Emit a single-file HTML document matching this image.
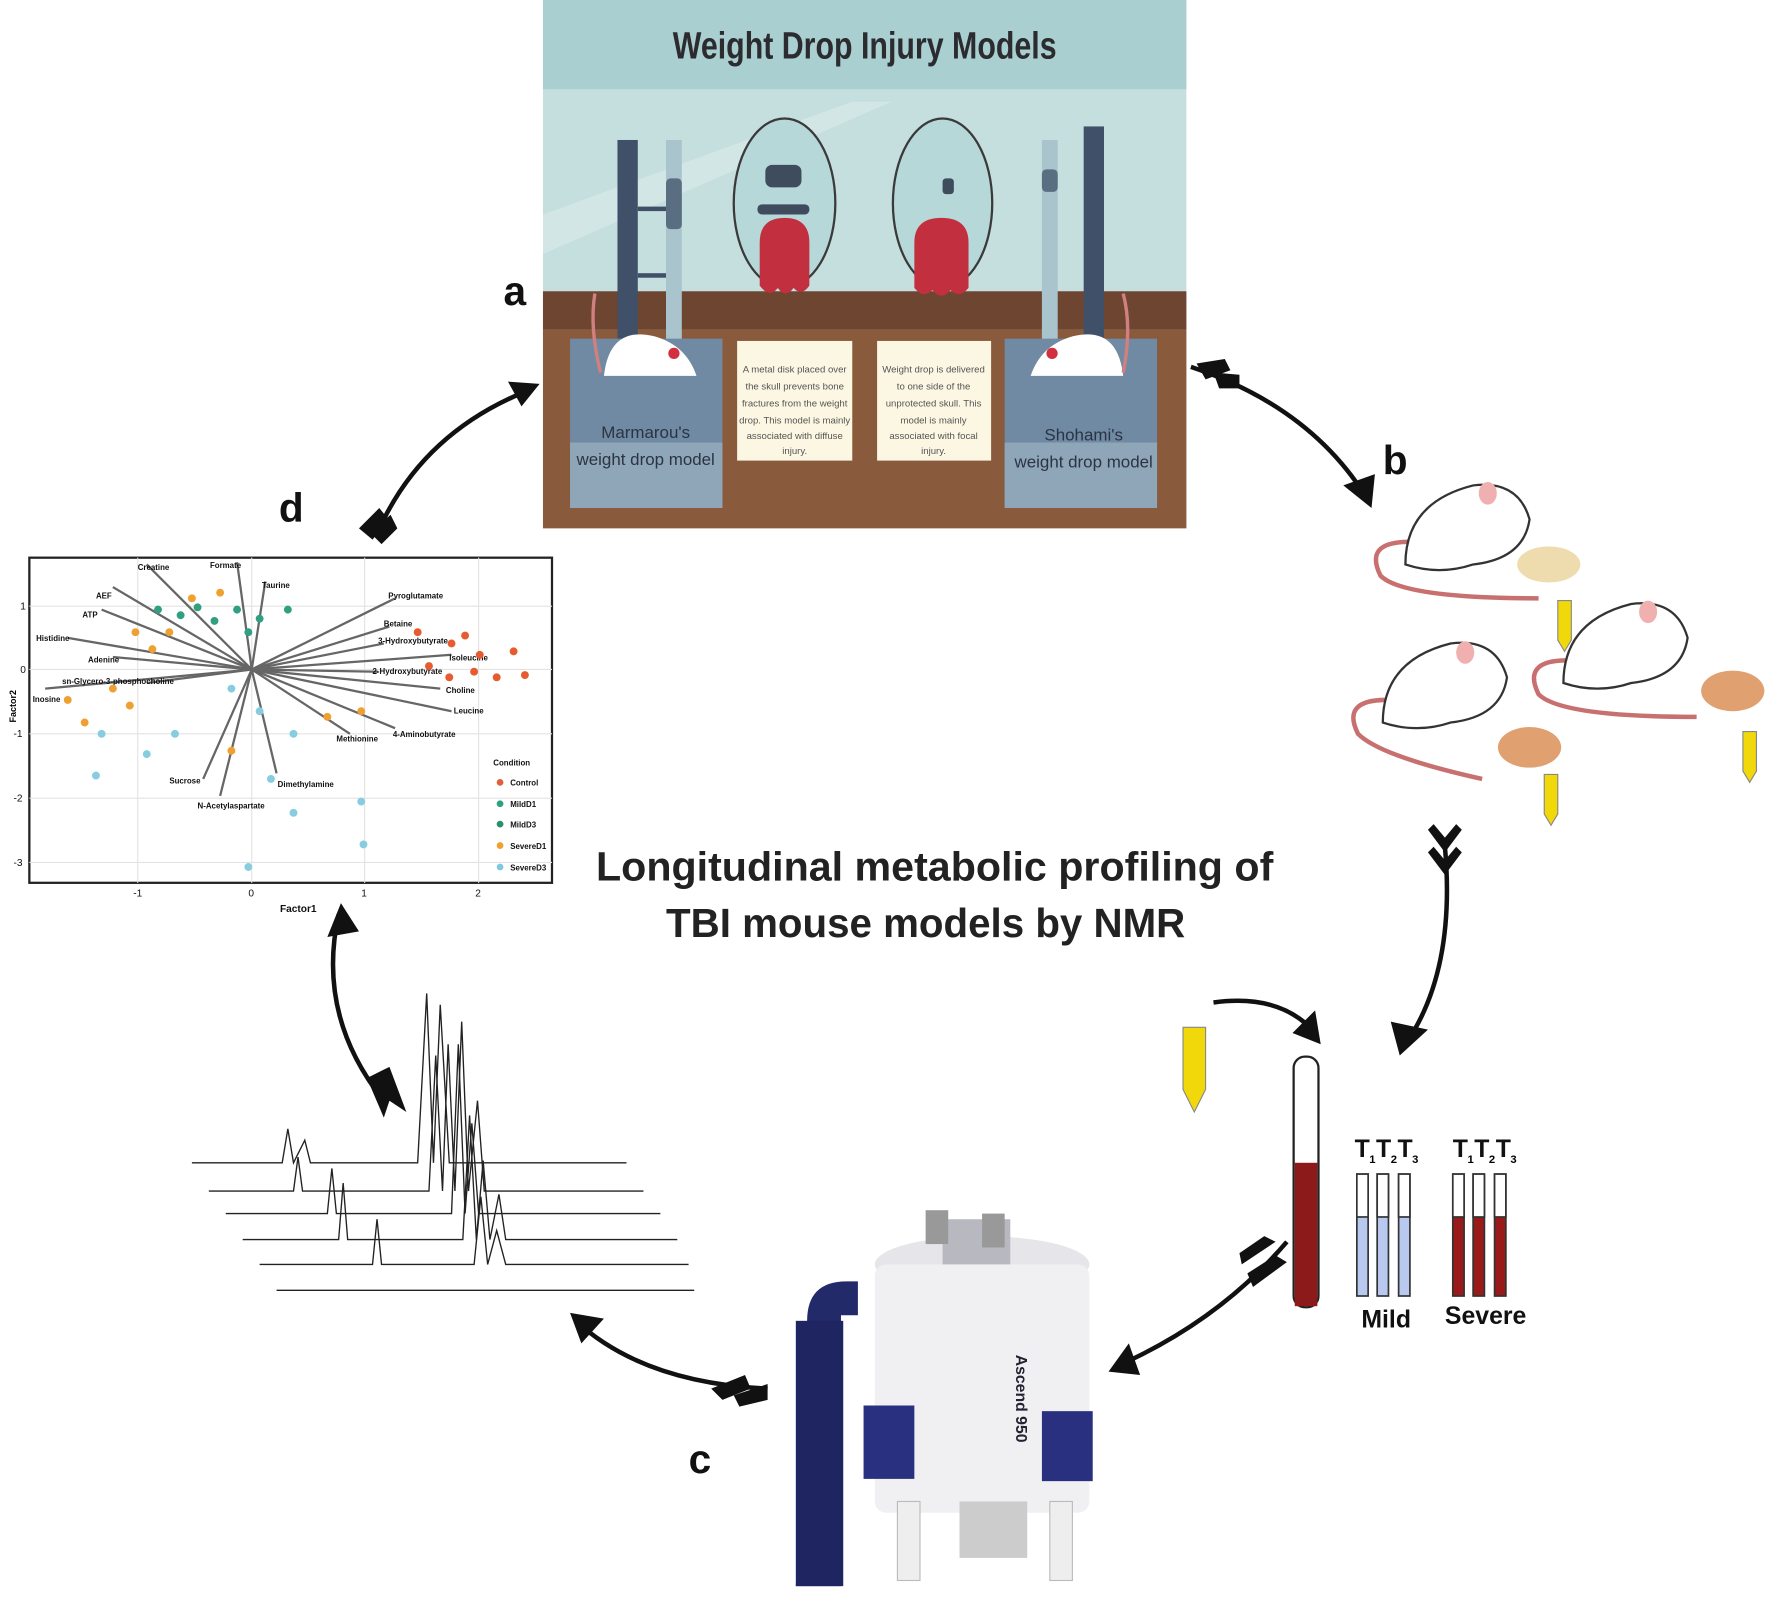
<!DOCTYPE html>
<html><head><style>
html,body{margin:0;padding:0;background:#fff;width:1770px;height:1620px;overflow:hidden}
svg{display:block}
text{font-family:"Liberation Sans",sans-serif}
</style></head><body>
<svg width="1770" height="1620" viewBox="0 0 1568 1435" preserveAspectRatio="none" xmlns="http://www.w3.org/2000/svg">
<!-- Panel a -->
<rect x="481" y="0" width="570" height="468" fill="#c5dede"/>
<rect x="481" y="0" width="570" height="79" fill="#a9cfd0"/>
<text x="766" y="52" text-anchor="middle" font-size="34" font-weight="bold" fill="#2b2b30" textLength="340" lengthAdjust="spacingAndGlyphs">Weight Drop Injury Models</text>
<polygon points="481,190 755,90 790,90 481,225" fill="#d8eaea" opacity="0.7"/>
<rect x="481" y="292" width="570" height="176" fill="#8a5a3c"/>
<rect x="481" y="258" width="570" height="34" fill="#6e4530"/>
<!-- stands -->
<rect x="547" y="124" width="18" height="200" fill="#3f5068"/>
<rect x="565" y="183" width="25" height="4" fill="#3f5068"/><rect x="565" y="242" width="25" height="4" fill="#3f5068"/>
<rect x="590" y="124" width="14" height="198" fill="#a9c4cc"/><rect x="590" y="158" width="14" height="45" rx="4" fill="#5a6e82"/>
<rect x="960" y="112" width="18" height="212" fill="#3f5068"/>
<rect x="923" y="124" width="14" height="198" fill="#a9c4cc"/><rect x="923" y="150" width="14" height="20" rx="4" fill="#5a6e82"/>
<!-- ovals -->
<ellipse cx="695" cy="180" rx="45" ry="75" fill="#b6d8d8" stroke="#3a3a3a" stroke-width="2"/>
<rect x="678" y="146" width="32" height="20" rx="6" fill="#3f4c5e"/><rect x="671" y="181" width="46" height="9" rx="4" fill="#3f4c5e"/>
<path d="M673,215 q0,-22 22,-22 q22,0 22,22 v38 q-7,10 -14,2 q-7,10 -14,0 q-7,10 -16,-2 z" fill="#c23040"/>
<ellipse cx="835" cy="180" rx="44" ry="75" fill="#b6d8d8" stroke="#3a3a3a" stroke-width="2"/>
<rect x="835" y="158" width="10" height="14" rx="3" fill="#3f4c5e"/>
<path d="M810,215 q0,-22 24,-22 q24,0 24,22 v40 q-8,10 -16,2 q-8,10 -16,0 q-8,8 -16,-2 z" fill="#c23040"/>
<!-- boxes -->
<rect x="505" y="300" width="135" height="150" fill="#6f8aa2"/><rect x="505" y="392" width="135" height="58" fill="#8ea6b7"/>
<text x="572" y="388" text-anchor="middle" font-size="15" fill="#2b3344">Marmarou's</text>
<text x="572" y="412" text-anchor="middle" font-size="15" fill="#2b3344">weight drop model</text>
<rect x="890" y="300" width="135" height="150" fill="#6f8aa2"/><rect x="890" y="392" width="135" height="58" fill="#8ea6b7"/>
<text x="960" y="390" text-anchor="middle" font-size="15" fill="#2b3344">Shohami's</text>
<text x="960" y="414" text-anchor="middle" font-size="15" fill="#2b3344">weight drop model</text>
<!-- mice -->
<path d="M535,333 q5,-45 45,-35 q28,8 37,35 z" fill="#fff"/><circle cx="597" cy="313" r="5" fill="#d23040"/>
<path d="M532,330 q-10,-40 -5,-70" stroke="#d08080" stroke-width="3" fill="none"/>
<path d="M995,333 q-5,-45 -45,-35 q-28,8 -37,35 z" fill="#fff"/><circle cx="932" cy="313" r="5" fill="#d23040"/>
<path d="M995,330 q8,-40 0,-70" stroke="#d08080" stroke-width="3" fill="none"/>
<!-- notes -->
<rect x="653" y="302" width="102" height="106" fill="#fbf7e2"/>
<rect x="777" y="302" width="101" height="106" fill="#fbf7e2"/>
<g font-size="8.5" fill="#555" text-anchor="middle">
<text x="704" y="330">A metal disk placed over</text><text x="704" y="345">the skull prevents bone</text><text x="704" y="360">fractures from the weight</text><text x="704" y="375">drop. This model is mainly</text><text x="704" y="389">associated with diffuse</text><text x="704" y="402">injury.</text>
<text x="827" y="330">Weight drop is delivered</text><text x="827" y="345">to one side of the</text><text x="827" y="360">unprotected skull. This</text><text x="827" y="375">model is mainly</text><text x="827" y="389">associated with focal</text><text x="827" y="402">injury.</text>
</g>
<!-- letters -->
<g font-size="36" font-weight="bold" fill="#111">
<text x="446" y="270">a</text><text x="1225" y="420">b</text><text x="610" y="1305">c</text><text x="247" y="462">d</text>
</g>
<text x="828" y="780" text-anchor="middle" font-size="36" font-weight="bold" fill="#222" textLength="600" lengthAdjust="spacingAndGlyphs">Longitudinal metabolic profiling of</text>
<text x="820" y="830" text-anchor="middle" font-size="36" font-weight="bold" fill="#222" textLength="460" lengthAdjust="spacingAndGlyphs">TBI mouse models by NMR</text>
<!-- PCA plot -->
<rect x="26" y="494" width="463" height="288" fill="#fff" stroke="#222" stroke-width="2"/>
<g stroke="#e3e3e3" stroke-width="1">
<line x1="122" y1="494" x2="122" y2="782"/><line x1="223" y1="494" x2="223" y2="782"/><line x1="323" y1="494" x2="323" y2="782"/><line x1="424" y1="494" x2="424" y2="782"/>
<line x1="26" y1="537" x2="489" y2="537"/><line x1="26" y1="593" x2="489" y2="593"/><line x1="26" y1="650" x2="489" y2="650"/><line x1="26" y1="707" x2="489" y2="707"/><line x1="26" y1="764" x2="489" y2="764"/>
</g>
<g stroke="#666" stroke-width="2">
<line x1="223" y1="593" x2="100" y2="520"/><line x1="223" y1="593" x2="130" y2="500"/><line x1="223" y1="593" x2="210" y2="498"/><line x1="223" y1="593" x2="235" y2="515"/>
<line x1="223" y1="593" x2="90" y2="540"/><line x1="223" y1="593" x2="60" y2="565"/><line x1="223" y1="593" x2="100" y2="582"/><line x1="223" y1="593" x2="40" y2="610"/><line x1="223" y1="593" x2="130" y2="605"/>
<line x1="223" y1="593" x2="350" y2="530"/><line x1="223" y1="593" x2="345" y2="555"/><line x1="223" y1="593" x2="340" y2="570"/><line x1="223" y1="593" x2="400" y2="580"/><line x1="223" y1="593" x2="335" y2="595"/>
<line x1="223" y1="593" x2="390" y2="610"/><line x1="223" y1="593" x2="400" y2="630"/><line x1="223" y1="593" x2="350" y2="645"/><line x1="223" y1="593" x2="310" y2="650"/>
<line x1="223" y1="593" x2="180" y2="690"/><line x1="223" y1="593" x2="195" y2="705"/><line x1="223" y1="593" x2="245" y2="685"/>
</g>
<g font-size="7" font-weight="bold" fill="#111">
<text x="122" y="505">Creatine</text><text x="186" y="503">Formate</text><text x="232" y="521">Taurine</text><text x="85" y="530">AEF</text><text x="73" y="547">ATP</text><text x="32" y="568">Histidine</text><text x="78" y="587">Adenine</text><text x="55" y="606">sn-Glycero-3-phosphocholine</text><text x="29" y="622">Inosine</text>
<text x="344" y="530">Pyroglutamate</text><text x="340" y="555">Betaine</text><text x="335" y="570">3-Hydroxybutyrate</text><text x="398" y="585">Isoleucine</text><text x="330" y="597">2-Hydroxybutyrate</text><text x="395" y="614">Choline</text><text x="402" y="632">Leucine</text><text x="348" y="653">4-Aminobutyrate</text><text x="298" y="657">Methionine</text>
<text x="150" y="694">Sucrose</text><text x="175" y="716">N-Acetylaspartate</text><text x="246" y="697">Dimethylamine</text>
<text x="437" y="678">Condition</text><text x="452" y="696">Control</text><text x="452" y="715">MildD1</text><text x="452" y="733">MildD3</text><text x="452" y="752">SevereD1</text><text x="452" y="771">SevereD3</text>
<text x="248" y="808" font-size="9">Factor1</text>
</g>
<g font-size="9" fill="#111"><text x="18" y="540">1</text><text x="18" y="596">0</text><text x="12" y="653">-1</text><text x="12" y="710">-2</text><text x="12" y="767">-3</text>
<text x="118" y="794">-1</text><text x="220" y="794">0</text><text x="320" y="794">1</text><text x="421" y="794">2</text></g>
<g>
<circle cx="443" cy="693" r="3" fill="#e0603a"/><circle cx="443" cy="712" r="3" fill="#30a080"/><circle cx="443" cy="730" r="3" fill="#2a9070"/><circle cx="443" cy="749" r="3" fill="#f0a030"/><circle cx="443" cy="768" r="3" fill="#80c8e0"/>
</g>
<g fill="#e85a30"><circle cx="400" cy="570" r="3.5"/><circle cx="412" cy="563" r="3.5"/><circle cx="425" cy="580" r="3.5"/><circle cx="455" cy="577" r="3.5"/><circle cx="465" cy="598" r="3.5"/><circle cx="440" cy="600" r="3.5"/><circle cx="380" cy="590" r="3.5"/><circle cx="398" cy="600" r="3.5"/><circle cx="420" cy="595" r="3.5"/><circle cx="370" cy="560" r="3.5"/></g>
<g fill="#2fa080"><circle cx="140" cy="540" r="3.5"/><circle cx="160" cy="545" r="3.5"/><circle cx="175" cy="538" r="3.5"/><circle cx="190" cy="550" r="3.5"/><circle cx="210" cy="540" r="3.5"/><circle cx="230" cy="548" r="3.5"/><circle cx="255" cy="540" r="3.5"/><circle cx="220" cy="560" r="3.5"/></g>
<g fill="#f0a030"><circle cx="120" cy="560" r="3.5"/><circle cx="135" cy="575" r="3.5"/><circle cx="100" cy="610" r="3.5"/><circle cx="115" cy="625" r="3.5"/><circle cx="75" cy="640" r="3.5"/><circle cx="60" cy="620" r="3.5"/><circle cx="170" cy="530" r="3.5"/><circle cx="195" cy="525" r="3.5"/><circle cx="290" cy="635" r="3.5"/><circle cx="320" cy="630" r="3.5"/><circle cx="205" cy="665" r="3.5"/><circle cx="150" cy="560" r="3.5"/></g>
<g fill="#88cce0"><circle cx="90" cy="650" r="3.5"/><circle cx="85" cy="687" r="3.5"/><circle cx="130" cy="668" r="3.5"/><circle cx="155" cy="650" r="3.5"/><circle cx="240" cy="690" r="3.5"/><circle cx="260" cy="720" r="3.5"/><circle cx="320" cy="710" r="3.5"/><circle cx="322" cy="748" r="3.5"/><circle cx="220" cy="768" r="3.5"/><circle cx="260" cy="650" r="3.5"/><circle cx="205" cy="610" r="3.5"/><circle cx="230" cy="630" r="3.5"/></g>
<text x="14" y="640" font-size="8" font-weight="bold" transform="rotate(-90 14 640)">Factor2</text>
<!-- arrows -->
<g stroke="#111" stroke-width="4" fill="none">
<path d="M340,460 Q380,380 470,345"/>
<path d="M1055,325 Q1160,360 1210,440"/>
<path d="M1280,750 Q1290,860 1245,925"/>
<path d="M1140,1100 Q1080,1170 990,1210"/>
<path d="M680,1230 Q570,1225 510,1170"/>
<path d="M340,975 Q280,900 300,810"/>
<path d="M1075,888 Q1135,880 1165,915"/>
</g>
<g fill="#111">
<polygon points="478,340 450,338 462,360"/>
<polygon points="1215,450 1190,430 1218,420"/>
<polygon points="1240,935 1232,905 1265,912"/>
<polygon points="982,1215 1000,1190 1010,1218"/>
<polygon points="505,1163 535,1168 515,1190"/>
<polygon points="302,800 290,830 318,825"/>
<polygon points="1170,925 1145,915 1165,895"/>
<polygon points="318,468 336,450 344,460 330,478"/><polygon points="328,472 346,456 352,468 338,482"/>
<polygon points="1060,322 1085,318 1090,328 1068,336"/><polygon points="1075,330 1098,332 1098,344 1080,344"/>
<polygon points="1265,735 1280,755 1295,735 1290,730 1280,742 1270,730"/><polygon points="1265,755 1280,775 1295,755 1290,750 1280,762 1270,750"/>
<polygon points="1100,1120 1130,1100 1120,1095 1098,1110"/><polygon points="1110,1140 1140,1118 1130,1112 1105,1128"/>
<polygon points="630,1230 660,1218 665,1230 640,1240"/><polygon points="650,1236 680,1226 680,1240 655,1246"/>
<polygon points="325,955 345,945 360,985 345,975 340,990"/>
</g>
<!-- mice b -->
<g fill="none" stroke="#c87070" stroke-width="4">
<path d="M1248,480 q-40,0 -25,30 q20,20 140,20"/><path d="M1228,620 q-40,0 -25,30 q20,20 110,40"/><path d="M1388,585 q-40,0 -25,30 q20,20 140,20"/>
</g>
<g fill="#fff" stroke="#333" stroke-width="2">
<path d="M1245,500 q0,-55 60,-70 q40,-5 50,30 q-5,35 -50,40 q-30,10 -60,0 z"/>
<path d="M1225,640 q0,-55 60,-70 q40,-5 50,30 q-5,35 -50,40 q-30,10 -60,0 z"/>
<path d="M1385,605 q0,-55 60,-70 q40,-5 50,30 q-5,35 -50,40 q-30,10 -60,0 z"/>
</g>
<g fill="#f0b0b0"><ellipse cx="1318" cy="437" rx="8" ry="10"/><ellipse cx="1298" cy="578" rx="8" ry="10"/><ellipse cx="1460" cy="542" rx="8" ry="10"/></g>
<ellipse cx="1372" cy="500" rx="28" ry="16" fill="#efdcae"/><ellipse cx="1355" cy="662" rx="28" ry="18" fill="#e0a070"/><ellipse cx="1535" cy="612" rx="28" ry="18" fill="#e0a070"/>
<g fill="#f1d80a" stroke="#888" stroke-width="1"><path d="M1380,532 h12 v35 l-6,10 l-6,-10 z"/><path d="M1368,686 h12 v35 l-6,10 l-6,-10 z"/><path d="M1544,648 h12 v35 l-6,10 l-6,-10 z"/><path d="M1048,910 h20 v55 l-10,20 l-10,-20 z"/></g>
<!-- blood tubes -->
<rect x="1146" y="936" width="22" height="222" rx="10" fill="#fff" stroke="#222" stroke-width="2"/>
<rect x="1147" y="1030" width="20" height="127" fill="#8c1a1a"/>
<g stroke="#333" stroke-width="1.5">
<rect x="1202" y="1040" width="10" height="108" fill="#b8c8ee"/><rect x="1220" y="1040" width="10" height="108" fill="#b8c8ee"/><rect x="1239" y="1040" width="10" height="108" fill="#b8c8ee"/>
<rect x="1202" y="1040" width="10" height="38" fill="#fff"/><rect x="1220" y="1040" width="10" height="38" fill="#fff"/><rect x="1239" y="1040" width="10" height="38" fill="#fff"/>
<rect x="1287" y="1040" width="10" height="108" fill="#9a1a1a"/><rect x="1305" y="1040" width="10" height="108" fill="#9a1a1a"/><rect x="1324" y="1040" width="10" height="108" fill="#9a1a1a"/>
<rect x="1287" y="1040" width="10" height="38" fill="#fff"/><rect x="1305" y="1040" width="10" height="38" fill="#fff"/><rect x="1324" y="1040" width="10" height="38" fill="#fff"/>
</g>
<g font-size="22" font-weight="bold" fill="#111"><text x="1200" y="1025">T</text><text x="1219" y="1025">T</text><text x="1238" y="1025">T</text><text x="1287" y="1025">T</text><text x="1306" y="1025">T</text><text x="1325" y="1025">T</text>
<text x="1206" y="1176">Mild</text><text x="1280" y="1173">Severe</text></g>
<g font-size="10" font-weight="bold"><text x="1213" y="1030">1</text><text x="1232" y="1030">2</text><text x="1251" y="1030">3</text><text x="1300" y="1030">1</text><text x="1319" y="1030">2</text><text x="1338" y="1030">3</text></g>
<!-- NMR magnet -->
<path d="M715,1170 q0,-35 35,-35 h10 v30 h-15 v240 h-40 z" fill="#232a6a"/>
<rect x="705" y="1170" width="42" height="235" fill="#1e2560"/>
<ellipse cx="870" cy="1120" rx="95" ry="25" fill="#e6e6ea"/>
<rect x="775" y="1120" width="190" height="220" rx="10" fill="#f0f0f2"/>
<rect x="835" y="1080" width="60" height="40" fill="#b8b8c0"/>
<rect x="820" y="1072" width="20" height="30" fill="#999"/><rect x="870" y="1075" width="20" height="30" fill="#999"/>
<rect x="765" y="1245" width="45" height="65" fill="#2a3080"/><rect x="923" y="1250" width="45" height="62" fill="#2a3080"/>
<rect x="795" y="1330" width="20" height="70" fill="#eee" stroke="#bbb"/><rect x="930" y="1330" width="20" height="70" fill="#eee" stroke="#bbb"/><rect x="850" y="1330" width="60" height="50" fill="#ccc"/>
<text x="900" y="1200" font-size="14" font-weight="bold" fill="#223" transform="rotate(90 900 1200)">Ascend 950</text>
<!-- spectra -->
<g stroke="#222" stroke-width="1.2" fill="none">
<path d="M170,1030 H250 l5,-30 l5,30 l10,-20 l5,20 H370 l8,-150 l6,150 l6,-140 l8,140 H520 H555"/>
<path d="M185,1055 H260 l4,-30 l4,30 H380 l6,-120 l6,120 l5,-130 l6,130 l6,-150 l6,150 l8,-80 l6,80 H545 H570"/>
<path d="M200,1075 H290 l4,-40 l4,40 H400 l6,-150 l6,150 l6,-80 l6,80 H520 H585"/>
<path d="M215,1098 H300 l4,-50 l4,50 H410 l6,-110 l6,110 l6,-70 l6,70 l8,-40 l6,40 H600"/>
<path d="M230,1120 H330 l4,-40 l4,40 H420 l6,-60 l6,60 l8,-30 l8,30 H610"/>
<path d="M245,1143 H615"/>
</g>
</svg>
</body></html>
